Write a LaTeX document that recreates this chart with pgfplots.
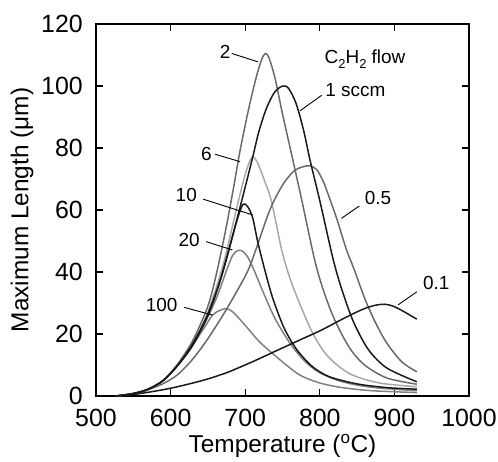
\documentclass[border=0pt]{standalone}
\usepackage{fontspec}
\setmainfont{Liberation Sans}
\usepackage{pgfplots}
\pgfplotsset{compat=1.18}
\definecolor{cdark}{HTML}{1A1A1A}
\definecolor{cmid}{HTML}{6A6A6A}
\definecolor{cgray}{HTML}{808080}
\definecolor{clight}{HTML}{A8A8A8}
\begin{document}
\begin{tikzpicture}
\begin{axis}[name=ax, scale only axis, width=373bp, height=372bp,
  xmin=500, xmax=1000, ymin=0, ymax=120,
  xtick={500,600,...,1000}, ytick={0,20,...,120},
  tick align=inside, major tick length=7bp,
  axis line style={line width=1.3bp},
  every tick/.style={line width=1.1bp, black},
  /pgf/number format/assume math mode=true,
  /pgf/number format/1000 sep={},
  ticklabel style={font=\fontsize{25}{27}\selectfont, inner sep=0pt},
  xticklabel style={yshift=-13bp},
  yticklabel style={xshift=-13bp},
  label style={font=\fontsize{24.5}{26}\selectfont},
  xlabel={Temperature (\textsuperscript{o}C)},
  ylabel={Maximum Length (μm)},
  xlabel style={at={(axis description cs:0.5,-0.135)}, anchor=center},
  ylabel style={at={(axis description cs:-0.198,0.5)}, anchor=center},
  every axis plot/.append style={line width=1.5bp, smooth, tension=0.5, no marks},
  clip=false,
]
% 100 sccm
\addplot[cgray] coordinates {(527,0) (550,0.8) (570,2.2) (590,5) (610,10) (630,16.5) (645,22) (656,26) (665,27.5) (674,28.2) (682,27.4) (690,25.5) (700,22.8) (720,17.3) (747,11.6) (773,6.8) (800,4.2) (830,2.7) (870,1.7) (930,1.1)};
% 20 sccm
\addplot[cgray] coordinates {(527,0) (550,0.8) (570,2.2) (590,5) (610,10) (630,16.5) (650,25.5) (663,32.5) (675,40.5) (683,45.3) (690,46.9) (696,46.8) (703,45) (712,40.5) (725,33) (740,25) (760,17) (780,11.2) (800,7.5) (830,4.6) (870,2.8) (930,1.7)};
% 6 sccm
\addplot[clight] coordinates {(527,0) (550,0.8) (570,2.2) (590,5) (610,10) (630,17) (650,27) (670,42) (688,60) (700,71.5) (709,77) (716,75.5) (725,70) (735,63) (749,47) (760,38) (771,31) (790,20.5) (810,13) (840,7.2) (880,4.2) (930,3.0)};
% 0.5 sccm
\addplot[cmid] coordinates {(527,0) (560,1.2) (590,4) (610,7) (630,12) (650,18.5) (675,28) (702,39.6) (714,47) (733,60) (750,68) (765,72.5) (778,74) (787,74.2) (796,73) (805,69) (815,62.5) (823,57) (836,47) (845,41.5) (861,31) (875,23.5) (890,17) (910,11) (930,7.8)};
% 2 sccm
\addplot[cmid] coordinates {(527,0) (550,0.8) (570,2.2) (590,5) (610,10.5) (630,18) (650,29) (662,40) (675,55) (685,68) (693,79) (705,93) (715,103) (722,108.5) (727,110.5) (732,109) (740,102.5) (750,91) (764,76) (776,63) (793,44) (805,34) (820,24.5) (840,15.5) (860,10) (890,5.8) (930,3.8)};
% 10 sccm
\addplot[cdark] coordinates {(527,0) (550,0.8) (570,2.2) (590,5) (610,10) (630,16.5) (650,26) (665,36) (680,49) (690,57.5) (697,61.8) (703,61.2) (710,57.5) (717,49.5) (727,40) (737,31.5) (752,22) (769,15) (790,9.5) (813,6.2) (850,3.9) (890,2.7) (930,2.2)};
% 1 sccm
\addplot[cdark] coordinates {(527,0) (550,0.8) (570,2.2) (590,5) (610,10) (630,17) (650,26.5) (670,40) (690,58) (709,76) (718,85) (728,92.5) (738,97.5) (746,99.5) (752,100) (758,99.3) (768,94.5) (778,86) (787,76) (800,63) (818,44) (830,34) (845,24) (865,15) (890,9) (930,4.6)};
% 0.1 sccm
\addplot[cdark] coordinates {(525,0) (550,0.5) (575,1.4) (600,2.5) (625,3.9) (650,5.5) (675,7.5) (693,9.3) (714,11.5) (740,14.4) (760,16.6) (778,18.6) (800,21) (820,23.5) (840,26) (860,28.2) (875,29.3) (887,29.6) (898,29) (910,27.6) (920,26.2) (930,24.8)};
% annotations
\begin{scope}[every node/.style={font=\fontsize{19}{21}\selectfont, inner sep=1bp}]
\node at (axis cs:673,111) {2};
\draw[line width=0.9bp] (axis cs:682,110.5) -- (axis cs:717,107.8);
\node[anchor=west] at (axis cs:806,98.8) {1 sccm};
\draw[line width=0.9bp] (axis cs:802.5,97) -- (axis cs:773.5,92);
\node[anchor=west] at (axis cs:805,108.6) {C\raisebox{-0.45ex}{\fontsize{13}{14}\selectfont 2}H\raisebox{-0.45ex}{\fontsize{13}{14}\selectfont 2} flow};
\node at (axis cs:648,78) {6};
\draw[line width=0.9bp] (axis cs:659.5,78) -- (axis cs:693,75.6);
\node at (axis cs:621,65) {10};
\draw[line width=0.9bp] (axis cs:643.6,63.5) -- (axis cs:710,58.4);
\node at (axis cs:625,50.3) {20};
\draw[line width=0.9bp] (axis cs:647.5,49.8) -- (axis cs:683,47.1);
\node at (axis cs:588,29.4) {100};
\draw[line width=0.9bp] (axis cs:618,28.6) -- (axis cs:656.4,26.1);
\node at (axis cs:878,64) {0.5};
\draw[line width=0.9bp] (axis cs:853,61.3) -- (axis cs:829,57.3);
\node at (axis cs:956,36.4) {0.1};
\draw[line width=0.9bp] (axis cs:930,33.6) -- (axis cs:905,29.4);
\end{scope}
\end{axis}
\path (ax.south west) ++(-96bp,-64bp);
\path (ax.north east) ++(29bp,24bp);
\end{tikzpicture}
\end{document}
